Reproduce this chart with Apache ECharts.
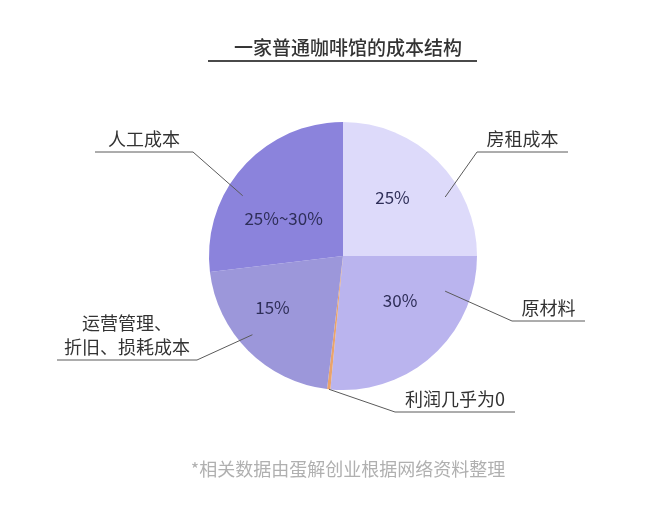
<!DOCTYPE html>
<html>
<head>
<meta charset="utf-8">
<script src="https://cdn.jsdelivr.net/npm/echarts@6/dist/echarts.min.js"></script>
<style>
  html, body { margin: 0; padding: 0; background: #fff; }
  #chart { width: 649px; height: 516px; }
</style>
</head>
<body>
<div id="chart"></div>
<script>
// 成本项（顺时针，从12点开始）
var names = ['房租成本', '原材料', '利润几乎为0', '运营管理、\n折旧、损耗成本', '人工成本'];
// 按扇区角度读出来的占比
var shares = [25, 26.5, 0.4, 21.2, 26.9];
// 扇区里标的文字
var pctText = ['25%', '30%', '', '15%', '25%~30%'];
var colors = ['#dddafa', '#bab4ee', '#e9a36c', '#9c97da', '#8b83dc'];

// 饼图位置
var cx = 343, cy = 256, R = 134;
// 扇区内文字的微调
var pctShift = [[0, -9], [10, -7], [0, 0], [-21, 2], [-7, 9]];
// 引线：起点(角度, 半径)、拐点、横线末端x
var leaderStart = [[60, 118], [109, 108], [186, 134], [229, 120], [301, 117]];
var leaderBend = [[477, 152], [512, 321], [395, 412], [197, 360], [193, 152]];
var leaderEnd = [568, 585, 515, 57, 95];

function polar(a, r) {
    var rad = a * Math.PI / 180;
    return [cx + r * Math.sin(rad), cy - r * Math.cos(rad)];
}

var myChart = echarts.init(document.getElementById('chart'));

var pieData = names.map(function (n, i) {
    return { name: n, value: shares[i], itemStyle: { color: colors[i] } };
});

var option = {
    animation: false,
    title: [{
        text: '一家普通咖啡馆的成本结构',
        left: 343,
        top: 33,
        textAlign: 'center',
        textStyle: { fontFamily: 'Noto Sans CJK SC', fontSize: 19, fontWeight: 500, color: '#333' }
    }, {
        text: '*相关数据由蛋解创业根据网络资料整理',
        left: 343,
        top: 455,
        textAlign: 'center',
        textStyle: { fontFamily: 'Noto Sans CJK SC', fontSize: 18, fontWeight: 'normal', color: '#b0b0b0' }
    }],
    graphic: [{
        type: 'line',
        shape: { x1: 208, y1: 61, x2: 477, y2: 61 },
        style: { stroke: '#4a4a4a', lineWidth: 2 }
    }],
    series: [{
        type: 'pie',
        center: [cx, cy],
        radius: R,
        startAngle: 90,
        clockwise: true,
        silent: true,
        avoidLabelOverlap: false,
        data: pieData,
        itemStyle: { borderWidth: 0 },
        label: {
            position: 'inside',
            formatter: function (p) { return pctText[p.dataIndex]; },
            fontFamily: 'Noto Sans CJK SC',
            fontSize: 17,
            color: '#2e2e58'
        },
        labelLine: { show: false },
        labelLayout: function (params) {
            var d = pctShift[params.dataIndex];
            return { dx: d[0], dy: d[1] };
        }
    }, {
        // 透明的一层，只用来放外面的名称和引线
        type: 'pie',
        center: [cx, cy],
        radius: R,
        startAngle: 90,
        clockwise: true,
        silent: true,
        avoidLabelOverlap: false,
        z: 5,
        data: pieData.map(function (d) {
            return { name: d.name, value: d.value, itemStyle: { color: 'rgba(0,0,0,0)' } };
        }),
        label: {
            position: 'outside',
            formatter: '{b}',
            overflow: 'none',
            fontFamily: 'Noto Sans CJK SC',
            fontSize: 18,
            lineHeight: 24,
            color: '#333'
        },
        labelLine: {
            show: true,
            length: 10,
            length2: 10,
            lineStyle: { color: '#5a5a5a', width: 1 }
        },
        labelLayout: function (params) {
            var i = params.dataIndex;
            var s = polar(leaderStart[i][0], leaderStart[i][1]);
            var b = leaderBend[i];
            var e = leaderEnd[i];
            return {
                x: (b[0] + e) / 2,
                y: b[1] - 1,
                align: 'center',
                verticalAlign: 'bottom',
                labelLinePoints: [s, [b[0], b[1]], [e, b[1]]]
            };
        }
    }]
};

myChart.setOption(option);
</script>
</body>
</html>
